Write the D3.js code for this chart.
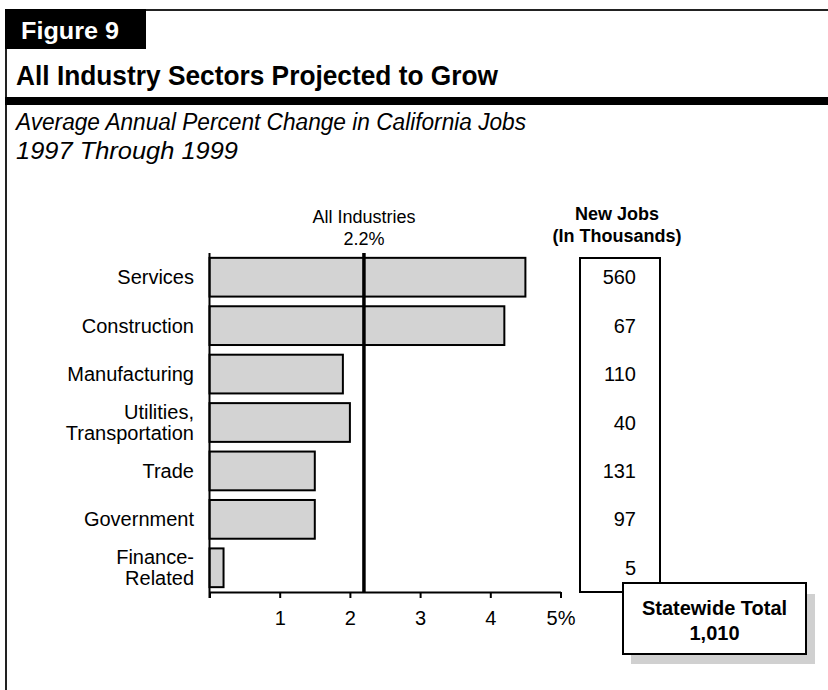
<!DOCTYPE html>
<html>
<head>
<meta charset="utf-8">
<script src="https://cdn.jsdelivr.net/npm/d3@7"></script>
<style>
  html, body { margin: 0; padding: 0; background: #fff; }
  svg { display: block; font-family: "Liberation Sans", Arial, Helvetica, sans-serif; }
</style>
</head>
<body>
<svg id="chart" width="828" height="690"></svg>
<script>
// Sectors, top to bottom ("\n" marks a line break in the label)
const sectors = ["Services", "Construction", "Manufacturing", "Utilities,\nTransportation",
                 "Trade", "Government", "Finance-\nRelated"];
// Average annual percent change in jobs, 1997 through 1999
const pctChange = [4.5, 4.2, 1.9, 2.0, 1.5, 1.5, 0.2];
// New jobs, in thousands
const newJobs = [560, 67, 110, 40, 131, 97, 5];
// Growth across all industries
const allIndustriesPct = 2.2;
// Statewide total of new jobs, in thousands
const statewideTotal = 1010;
// Percent axis
const xTicks = [0, 1, 2, 3, 4, 5];
const xTickLabels = ["", "1", "2", "3", "4", "5%"];

const svg = d3.select("#chart");

// ---- Frame and headings ----
svg.append("line").attr("x1", 6).attr("x2", 6).attr("y1", 9).attr("y2", 690)
  .attr("stroke", "#222").attr("stroke-width", 2);
svg.append("line").attr("x1", 146).attr("x2", 828).attr("y1", 10).attr("y2", 10)
  .attr("stroke", "#222").attr("stroke-width", 2);
svg.append("rect").attr("x", 5).attr("y", 9).attr("width", 141).attr("height", 40).attr("fill", "#000");
svg.append("text").attr("x", 21).attr("y", 39).attr("fill", "#fff")
  .attr("font-size", 23).attr("font-weight", "bold")
  .attr("textLength", 98).attr("lengthAdjust", "spacingAndGlyphs").text("Figure 9");

svg.append("text").attr("x", 16).attr("y", 85)
  .attr("font-size", 28).attr("font-weight", "bold")
  .attr("textLength", 482).attr("lengthAdjust", "spacingAndGlyphs")
  .text("All Industry Sectors Projected to Grow");
svg.append("rect").attr("x", 5).attr("y", 97).attr("width", 823).attr("height", 8).attr("fill", "#000");

svg.append("text").attr("x", 16).attr("y", 130)
  .attr("font-size", 23).attr("font-style", "italic")
  .attr("textLength", 510).attr("lengthAdjust", "spacingAndGlyphs")
  .text("Average Annual Percent Change in California Jobs");
svg.append("text").attr("x", 16).attr("y", 159)
  .attr("font-size", 23).attr("font-style", "italic")
  .attr("textLength", 222).attr("lengthAdjust", "spacingAndGlyphs")
  .text("1997 Through 1999");

// ---- Scales ----
const x = d3.scaleLinear().domain([0, 5]).range([209.5, 560.5]);
const y = d3.scaleBand().domain(sectors).range([253, 592]).paddingInner(0.2).paddingOuter(0.1);
const baseY = 592;

// ---- Bars ----
svg.append("g").selectAll("rect").data(sectors).join("rect")
  .attr("x", x(0))
  .attr("y", d => y(d))
  .attr("width", (d, i) => x(pctChange[i]) - x(0))
  .attr("height", y.bandwidth())
  .attr("fill", "#d3d3d3")
  .attr("stroke", "#000")
  .attr("stroke-width", 2);

// ---- Percent axis ----
const xAxis = svg.append("g").attr("transform", `translate(0,${baseY})`)
  .call(d3.axisBottom(x).tickValues(xTicks).tickSize(6).tickSizeOuter(0).tickPadding(13)
    .tickFormat((d, i) => xTickLabels[i]));
xAxis.select(".domain").attr("stroke", "#000").attr("stroke-width", 2);
xAxis.selectAll(".tick line").attr("stroke", "#000").attr("stroke-width", 2);
xAxis.selectAll(".tick text").attr("fill", "#000")
  .attr("font-size", 20).attr("font-family", "Liberation Sans, Arial, sans-serif");

// Category axis line
svg.append("line").attr("x1", x(0)).attr("x2", x(0)).attr("y1", 253).attr("y2", baseY + 6)
  .attr("stroke", "#000").attr("stroke-width", 2);

// Category labels
svg.append("g").selectAll("text").data(sectors).join("text")
  .attr("text-anchor", "end")
  .attr("font-size", 20)
  .each(function (d) {
    const lines = d.split("\n");
    const cy = y(d) + y.bandwidth() / 2;
    const lh = 21;
    d3.select(this).selectAll("tspan").data(lines).join("tspan")
      .attr("x", 194)
      .attr("y", (l, j) => cy + (j - (lines.length - 1) / 2) * lh)
      .attr("dy", "0.35em")
      .text(l => l);
  });

// ---- All-industries reference line ----
svg.append("line")
  .attr("x1", x(allIndustriesPct)).attr("x2", x(allIndustriesPct))
  .attr("y1", 253).attr("y2", baseY)
  .attr("stroke", "#000").attr("stroke-width", 3.5);
svg.append("text").attr("x", x(allIndustriesPct)).attr("y", 223)
  .attr("text-anchor", "middle").attr("font-size", 18).text("All Industries");
svg.append("text").attr("x", x(allIndustriesPct)).attr("y", 245)
  .attr("text-anchor", "middle").attr("font-size", 18).text(allIndustriesPct.toFixed(1) + "%");

// ---- New jobs column ----
svg.append("text").attr("x", 617).attr("y", 220)
  .attr("text-anchor", "middle").attr("font-size", 18).attr("font-weight", "bold").text("New Jobs");
svg.append("text").attr("x", 617).attr("y", 242)
  .attr("text-anchor", "middle").attr("font-size", 18).attr("font-weight", "bold").text("(In Thousands)");
svg.append("rect").attr("x", 580).attr("y", 258).attr("width", 80).attr("height", baseY - 258)
  .attr("fill", "#fff").attr("stroke", "#000").attr("stroke-width", 2);
svg.append("g").selectAll("text").data(sectors).join("text")
  .attr("x", 636)
  .attr("y", d => y(d) + y.bandwidth() / 2)
  .attr("dy", "0.35em")
  .attr("text-anchor", "end")
  .attr("font-size", 20)
  .text((d, i) => newJobs[i]);

// ---- Statewide total box ----
svg.append("rect").attr("x", 631).attr("y", 594).attr("width", 184).attr("height", 70).attr("fill", "#d0d0d0");
svg.append("rect").attr("x", 623).attr("y", 583).attr("width", 183).attr("height", 71)
  .attr("fill", "#fff").attr("stroke", "#000").attr("stroke-width", 2);
svg.append("text").attr("x", 714.5).attr("y", 615)
  .attr("text-anchor", "middle").attr("font-size", 20).attr("font-weight", "bold").text("Statewide Total");
svg.append("text").attr("x", 714.5).attr("y", 640)
  .attr("text-anchor", "middle").attr("font-size", 20).attr("font-weight", "bold")
  .text(d3.format(",")(statewideTotal));
</script>
</body>
</html>
